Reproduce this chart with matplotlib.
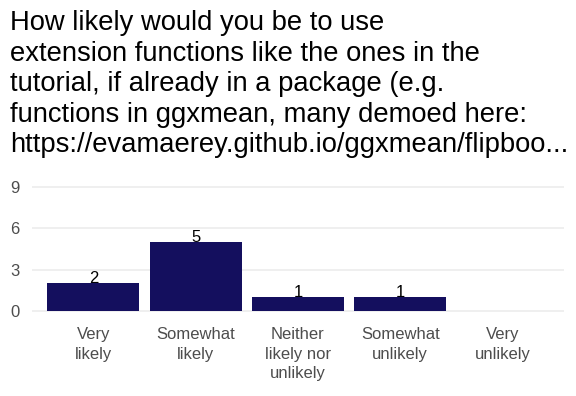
import numpy as np
import matplotlib.pyplot as plt

plt.rcParams['font.family'] = ['Liberation Sans', 'DejaVu Sans']

categories = ["Very\nlikely", "Somewhat\nlikely", "Neither\nlikely nor\nunlikely",
              "Somewhat\nunlikely", "Very\nunlikely"]
counts = [2, 5, 1, 1, 0]
y_ticks = [0, 3, 6, 9]
title = ("How likely would you be to use\n"
         "extension functions like the ones in the\n"
         "tutorial, if already in a package (e.g.\n"
         "functions in ggxmean, many demoed here:\n"
         "https://evamaerey.github.io/ggxmean/flipboo...")

bar_color = '#140F5E'

fig = plt.figure(figsize=(5.76, 3.96), dpi=100)
ax = fig.add_axes([0.0556, 0.1995, 0.9235, 0.3435])

x = np.arange(1, len(categories) + 1)
ax.bar(x, counts, width=0.9, color=bar_color, zorder=2)
for xi, c in zip(x, counts):
    if c > 0:
        ax.text(xi, c, str(c), ha='center', va='baseline', fontsize=12, color='black', zorder=3)

ax.set_xlim(0.4, 5.6)
ax.set_ylim(-0.45, 9.45)
ax.set_yticks(y_ticks)
ax.set_xticks(x)
ax.set_xticklabels(categories, fontsize=12, color='#4d4d4d', linespacing=1.4)
ax.tick_params(axis='y', labelsize=12, labelcolor='#4d4d4d', length=0, pad=9)
ax.tick_params(axis='x', length=0, pad=7)
ax.grid(axis='y', color='#ebebeb', linewidth=1.1, zorder=0)
for s in ax.spines.values():
    s.set_visible(False)

fig.text(0.017, 0.975, title, ha='left', va='top', fontsize=19.7, color='black', linespacing=1.23)

fig.savefig('out.png', dpi=100)
